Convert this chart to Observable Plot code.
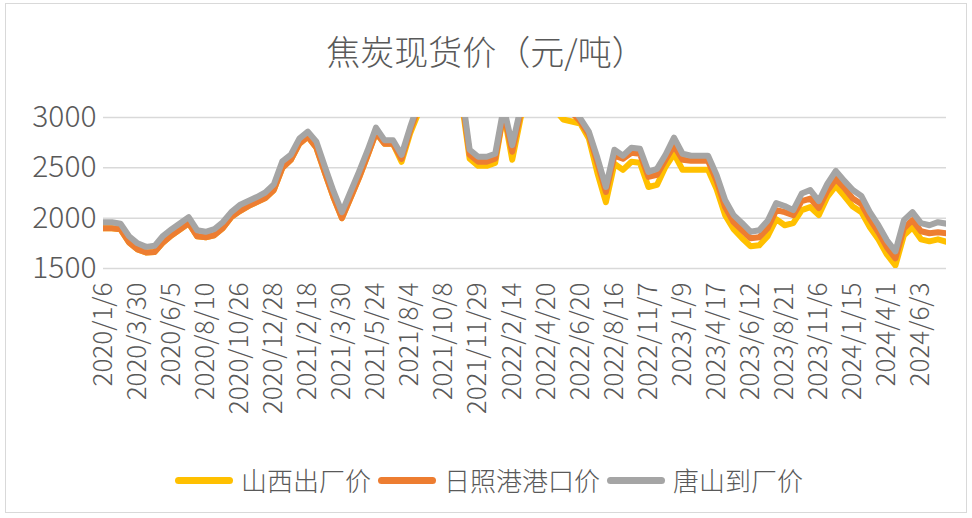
<!DOCTYPE html>
<html><head><meta charset="utf-8">
<script src="https://cdn.jsdelivr.net/npm/d3@7"></script>
<script src="https://cdn.jsdelivr.net/npm/@observablehq/plot@0.6"></script>
<style>
body{margin:0;background:#fff;font-family:"Noto Sans CJK SC",sans-serif;}
#frame{position:absolute;left:5px;top:3px;width:962px;height:510px;border:1px solid #d9d9d9;box-sizing:border-box;}
#title{position:absolute;left:0;top:28px;width:972px;text-align:center;font-size:34px;color:#595959;font-weight:300;line-height:46px;}
#chart{position:absolute;left:0;top:80px;}
#legend{position:absolute;left:175px;top:464px;display:flex;align-items:center;font-size:26px;color:#595959;font-weight:300;line-height:32px;}
.sw{width:58px;height:7px;border-radius:4px;margin-right:8px;}
.lt{margin-right:7px;}
</style></head>
<body>
<div id="frame"></div>
<div id="title">焦炭现货价（元/吨）</div>
<div id="chart"></div>
<div id="legend"></div>
<script>
const tickLabels = ["2020/1/6","2020/3/30","2020/6/5","2020/8/10","2020/10/26","2020/12/28","2021/2/18","2021/3/30","2021/5/24","2021/8/4","2021/10/8","2021/11/29","2022/2/14","2022/4/20","2022/6/20","2022/8/16","2022/11/7","2023/1/9","2023/4/17","2023/6/12","2023/8/21","2023/11/6","2024/1/15","2024/4/1","2024/6/3"];
const seriesNames = ["山西出厂价","日照港港口价","唐山到厂价"];
const seriesColors = ["#FFC000","#ED7D31","#A5A5A5"];
const shanxi = [1900,1900,1890,1760,1690,1660,1665,1760,1830,1890,1950,1820,1810,1830,1900,2010,2070,2120,2160,2200,2280,2500,2580,2740,2810,2700,2450,2210,2000,2200,2400,2620,
2850,2740,2740,2560,2840,3050,3400,3700,3900,3800,3200,2590,2520,2520,2550,3050,2580,3000,3200,3300,3250,3080,2980,2960,2940,2790,2450,2160,2540,2480,2560,2550,2310,2330,2510,2640,2480,2480,2480,2480,2290,2030,1890,1800,1720,1730,1820,1990,1930,1950,2080,2110,2030,2210,2320,2220,2115,2060,1910,1790,1640,1530,1830,1910,1790,1770,1790,1765];
const rizhao = [1900,1900,1890,1760,1690,1660,1665,1760,1830,1890,1950,1820,1810,1830,1900,2010,2070,2120,2160,2200,2280,2500,2580,2740,2810,2700,2450,2210,2000,2200,2400,2620,
2850,2740,2740,2590,2870,3100,3450,3750,3950,3850,3250,2630,2560,2560,2590,3050,2660,3050,3250,3350,3300,3150,3080,3050,2960,2830,2550,2260,2620,2590,2650,2640,2410,2430,2580,2720,2580,2570,2570,2570,2370,2110,1960,1880,1800,1810,1900,2080,2060,2030,2170,2195,2100,2270,2390,2300,2195,2140,1990,1860,1710,1600,1900,1980,1870,1850,1860,1850];
const tangshan = [1960,1960,1945,1820,1750,1715,1725,1825,1890,1950,2010,1880,1865,1890,1960,2060,2130,2170,2210,2255,2335,2565,2630,2790,2860,2760,2510,2270,2060,2260,2460,2670,
2900,2775,2775,2630,2900,3150,3500,3800,4000,3900,3300,2680,2610,2610,2640,3100,2725,3100,3300,3400,3350,3200,3150,3100,2990,2860,2600,2310,2680,2620,2700,2690,2460,2490,2630,2800,2640,2620,2620,2620,2430,2180,2030,1950,1865,1880,1975,2150,2120,2080,2245,2280,2170,2340,2470,2370,2280,2220,2060,1930,1780,1670,1980,2060,1950,1930,1960,1945];
const yTicks = [1500,2000,2500,3000];
const labelStep = 4;

const allSeries = [shanxi, rizhao, tangshan];
const rows = [];
allSeries.forEach((vals, s) => vals.forEach((v, i) => rows.push({i, v, s: seriesNames[s]})));
const n = tangshan.length;
const tickIdx = tickLabels.map((_, k) => k * labelStep);

const plot = Plot.plot({
  width: 972, height: 360,
  marginTop: 37, marginBottom: 172, marginLeft: 103, marginRight: 26,
  style: {background: "transparent", fontFamily: "'Noto Sans CJK SC', sans-serif", color: "#595959"},
  x: {type: "linear", domain: [0, n - 1], axis: null},
  y: {domain: [1500, 3000], axis: null},
  marks: [
    Plot.gridY(yTicks, {stroke: "#d9d9d9", strokeOpacity: 1, strokeWidth: 1.5}),
    ...seriesNames.map((name, s) => Plot.line(rows.filter(d => d.s === name), {
      x: "i", y: "v", stroke: seriesColors[s], strokeWidth: 6,
      strokeLinejoin: "round", strokeLinecap: "round", clip: true
    })),
    Plot.axisY(yTicks, {tickSize: 0, tickPadding: 7, fontSize: 30, fontWeight: 300, fill: "#595959", label: null,
      tickFormat: d => String(d)}),
    Plot.axisX(tickIdx, {tickSize: 0, tickPadding: 14, tickRotate: -90, fontSize: 26, fontWeight: 300, fill: "#595959", label: null,
      tickFormat: d => tickLabels[d / labelStep]})
  ]
});
document.getElementById("chart").appendChild(plot);

const leg = document.getElementById("legend");
seriesNames.forEach((name, s) => {
  const sw = document.createElement("div");
  sw.className = "sw"; sw.style.background = seriesColors[s];
  const t = document.createElement("span");
  t.className = "lt"; t.textContent = name;
  leg.appendChild(sw); leg.appendChild(t);
});
</script>
</body></html>
